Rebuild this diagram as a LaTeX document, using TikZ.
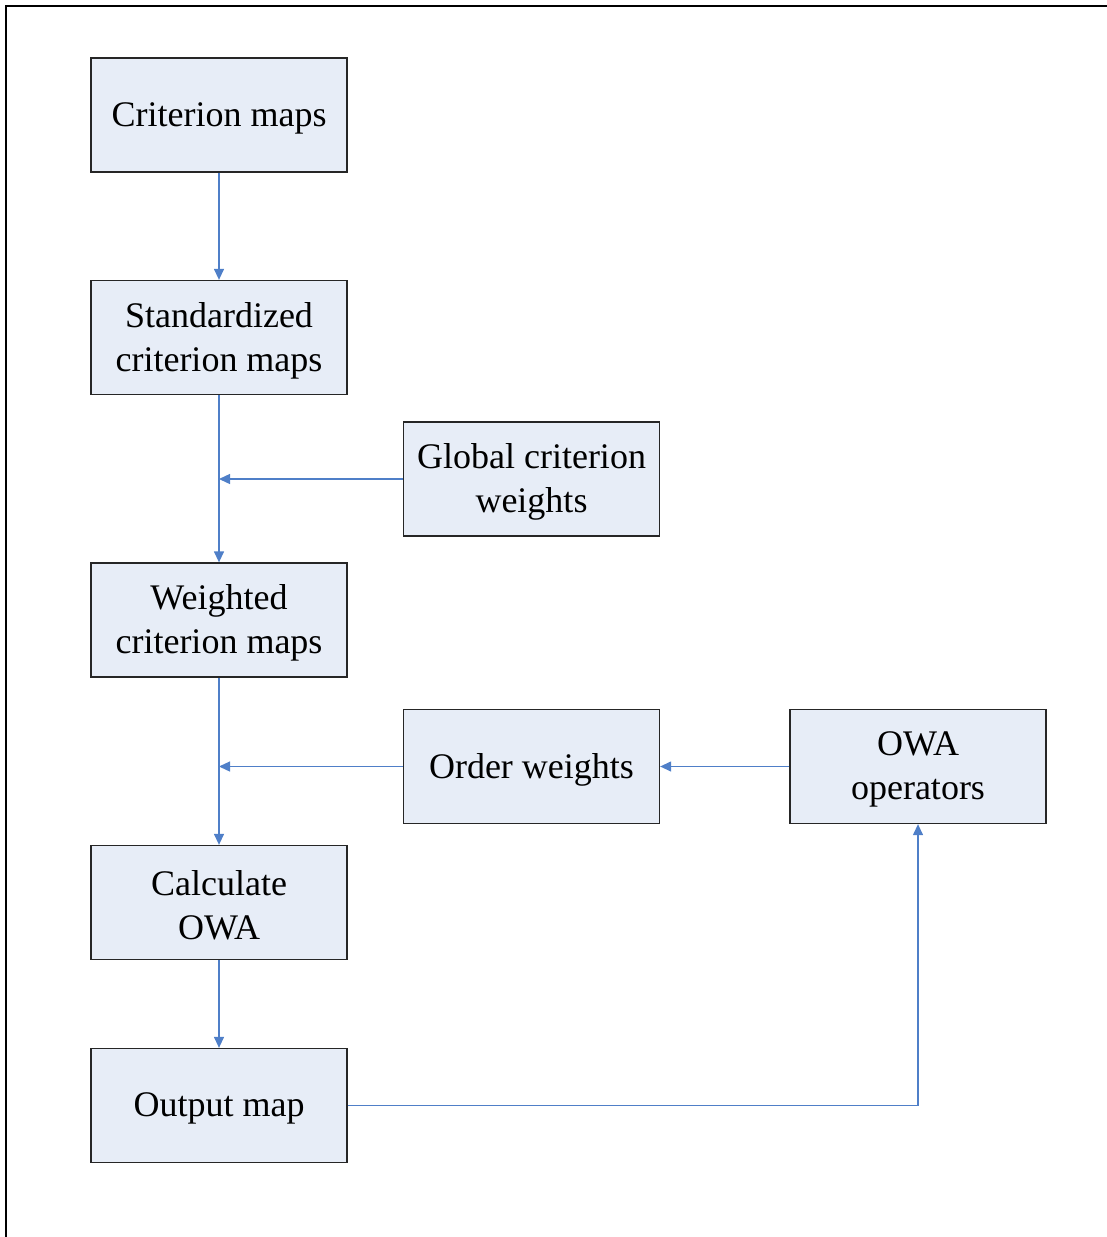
\documentclass[tikz,border=0pt]{standalone}
\usepackage{fontspec}
\setmainfont{Liberation Serif}
\usetikzlibrary{arrows.meta}
\definecolor{boxfill}{HTML}{E7EDF7}
\definecolor{arrowblue}{HTML}{4F7FC8}
\begin{document}
\begin{tikzpicture}[x=1pt,y=-1pt,
  box/.style={draw=black!85,line width=1.3pt,fill=boxfill,minimum width=256pt,minimum height=114pt,
    inner sep=0pt},
  txt/.style={label={[align=center,inner sep=0pt,font=\fontsize{36}{44}\selectfont,yshift=-3pt]center:#1}},
  conn/.style={draw=arrowblue,line width=1.3pt},
  arr/.style={conn,-{Triangle[length=11pt,width=10pt]}}]
\useasboundingbox (0,0) rectangle (1107,1237);
\draw[line width=1.5pt] (6,1237) -- (6,6) -- (1107,6);
\node[box,txt={Criterion maps}] (crit) at (219,115) {};
\node[box,txt={Standardized\\criterion maps}] (std) at (219,337.5) {};
\node[box,txt={Global criterion\\weights}] (glob) at (531.5,479) {};
\node[box,txt={Weighted\\criterion maps}] (wtd) at (219,620) {};
\node[box,txt={Order weights}] (ord) at (531.5,766.5) {};
\node[box,txt={OWA\\operators}] (owa) at (918,766.5) {};
\node[box,txt={Calculate\\OWA}] (calc) at (219,902.5) {};
\node[box,txt={Output map}] (out) at (219,1105.5) {};
\coordinate (j1) at (std.south |- glob.west);
\coordinate (j2) at (wtd.south |- ord.west);
\coordinate (c1) at (owa.south |- out.east);
\draw[arr] (crit) -- (std);
\draw[arr] (std) -- (wtd);
\draw[arr] (glob.west) -- (j1);
\draw[arr] (wtd) -- (calc);
\draw[arr] (ord.west) -- (j2);
\draw[arr] (owa) -- (ord);
\draw[arr] (calc) -- (out);
\draw[arr] (out.east) -- (c1) -- (owa.south);
\end{tikzpicture}
\end{document}
